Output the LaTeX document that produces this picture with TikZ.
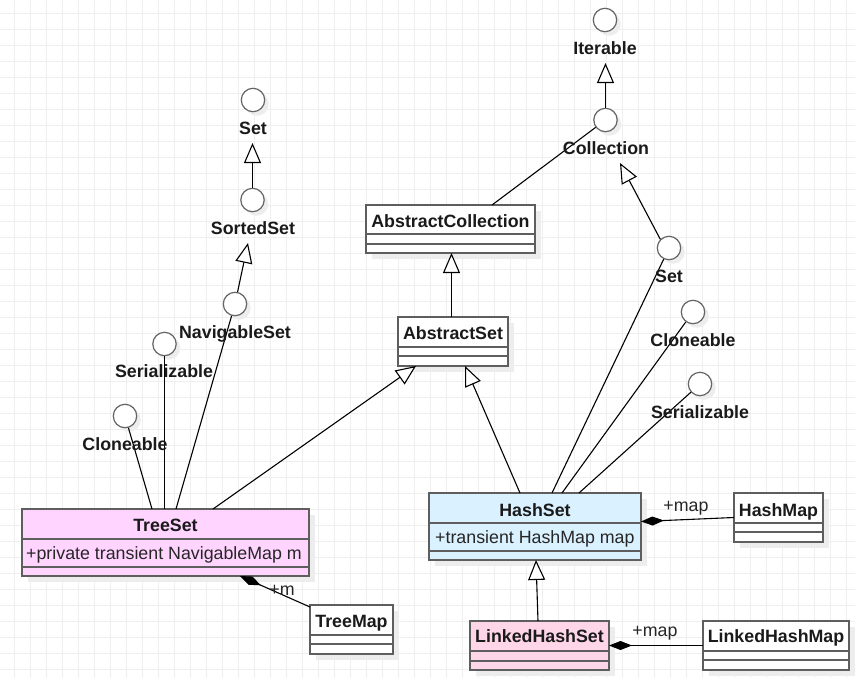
\documentclass[tikz,border=0pt]{standalone}
\usepackage{fontspec}
\setmainfont{Liberation Sans}
\usetikzlibrary{arrows.meta,calc}
\definecolor{gridc}{HTML}{EFEFEF}
\definecolor{shadowc}{HTML}{EDEDED}
\definecolor{boxc}{HTML}{5E5E5E}
\definecolor{circc}{HTML}{666666}
\definecolor{textc}{HTML}{1A1A1A}
\definecolor{attrc}{HTML}{262626}
\definecolor{tsfill}{HTML}{FFD4FF}
\definecolor{hsfill}{HTML}{DAF1FF}
\definecolor{lhsfill}{HTML}{FFD6E8}
\newcommand{\umlbox}[8]{%
  \fill[shadowc] (#2+6,#3+6) rectangle (#4+6,#5+6);
  \node[box, fill=#8, anchor=north west, minimum width={#4-#2}, minimum height={#5-#3}] (#1) at (#2,#3) {};
  \draw[boxc, line width=1.8] (#2,#6) -- (#4,#6) (#2,#7) -- (#4,#7);
}
\newcommand{\ifacecirc}[3]{%
  \fill[shadowc] (#2+4,#3+4) circle (11.7);
  \node[iface] (#1) at (#2,#3) {};
}
\begin{document}
\begin{tikzpicture}[x=1pt,y=-1pt,
  box/.style={draw=boxc, line width=1.8, inner sep=0pt, outer sep=0pt},
  iface/.style={circle, draw=circc, line width=1.2, fill=white, minimum size=23.4, inner sep=0pt},
  lbl/.style={font=\bfseries\fontsize{17.8}{20}\selectfont, text=textc, inner sep=0pt},
  attr/.style={font=\fontsize{17.8}{20}\selectfont, text=attrc, inner sep=0pt},
  assoc/.style={draw=black, line width=1.1},
  gen/.style={draw=black, line width=1.1, -{Triangle[length=20pt,width=17pt,fill=white]}},
  comp/.style={draw=black, line width=1.1, -{Diamond[length=23pt,width=9pt]}}
]
\useasboundingbox (0,0) rectangle (855,678);
\fill[white] (0,0) rectangle (855,678);
\foreach \i in {0,...,52} \draw[gridc, line width=1] (14.3+16*\i,0) -- (14.3+16*\i,678);
\foreach \i in {0,...,41} \draw[gridc, line width=1] (0,13.3+16*\i) -- (855,13.3+16*\i);

% classes
\umlbox{abscoll}{366}{205}{535}{253}{234}{244}{white}
\umlbox{absset}{398}{317}{508}{366}{347}{356}{white}
\umlbox{treeset}{22}{509}{309}{576}{539}{567}{tsfill}
\umlbox{treemap}{310}{605}{393}{654}{635}{644}{white}
\umlbox{hashset}{429}{493}{641}{560}{523}{551}{hsfill}
\umlbox{hashmap}{734}{493}{823}{542}{523}{532}{white}
\umlbox{lhs}{470}{621}{609}{670}{651}{661}{lhsfill}
\umlbox{lhm}{703}{621}{849}{670}{651}{660}{white}

\node[lbl, anchor=base] (abscollN) at (450.5,227) {AbstractCollection};
\node[lbl, anchor=base] (abssetN) at (453,339) {AbstractSet};
\node[lbl, anchor=base] (treesetN) at (165.5,531) {TreeSet};
\node[attr, anchor=base west] (treesetA) at (26,559) {+private transient NavigableMap m};
\node[lbl, anchor=base] (treemapN) at (351.5,627.5) {TreeMap};
\node[lbl, anchor=base] (hashsetN) at (535,516) {HashSet};
\node[attr, anchor=base west] (hashsetA) at (435,543) {+transient HashMap map};
\node[lbl, anchor=base] (hashmapN) at (778.5,516) {HashMap};
\node[lbl, anchor=base] (lhsN) at (539.5,642.7) {LinkedHashSet};
\node[lbl, anchor=base] (lhmN) at (776,642.7) {LinkedHashMap};

% interfaces
\ifacecirc{iter}{605}{20}
\ifacecirc{coll}{605.5}{120}
\ifacecirc{setL}{253}{100}
\ifacecirc{sorted}{252.5}{200}
\ifacecirc{navi}{235}{304}
\ifacecirc{serL}{164.5}{344}
\ifacecirc{cloneL}{125}{416}
\ifacecirc{setR}{669}{248}
\ifacecirc{cloneR}{693}{312}
\ifacecirc{serR}{700}{384}

\coordinate (iterT) at (605.5,63);
\coordinate (setLT) at (252.5,143);
\coordinate (sortedT) at (248,243);
\coordinate (collT) at (620,163);

% connectors
\draw[gen] (coll) -- (iterT);
\draw[gen] (sorted) -- (setLT);
\draw[gen] (navi) -- (sortedT);
\draw[gen] (setR.135) -- (collT);
\draw[assoc] ([xshift=126]abscoll.north west) -- (coll);
\draw[gen] ([xshift=-1.5]absset.north) -- ([xshift=-1.5]absset.north |- abscoll.south);
\draw[gen] ([xshift=191]treeset.north west) -- ([xshift=18]absset.south west);
\draw[gen] ([xshift=91]hashset.north west) -- ([xshift=67]absset.south west);
\draw[assoc] (cloneL) -- ([xshift=130]treeset.north west);
\draw[assoc] (serL) -- (serL |- treeset.north);
\draw[assoc] (navi) -- ([xshift=154]treeset.north west);
\draw[assoc] (setR) -- ([xshift=123]hashset.north west);
\draw[assoc] (cloneR) -- ([xshift=133]hashset.north west);
\draw[assoc] (serR) -- ([xshift=150]hashset.north west);
\draw[gen] ([xshift=68]lhs.north west) -- ([xshift=107]hashset.south west);
\draw[comp] (hashmap.west) -- ([yshift=5]hashset.east);
\draw[comp] (lhm.west) -- (lhs.east);
\draw[comp] ([yshift=-2]treemap.north west) -- ([xshift=218]treeset.south west);

% interface labels
\node[lbl, anchor=base] (iterN) at (605,54) {Iterable};
\node[lbl, anchor=base] (collN) at (606,154) {Collection};
\node[lbl, anchor=base] (setLN) at (253,134) {Set};
\node[lbl, anchor=base] (sortedN) at (253,234) {SortedSet};
\node[lbl, anchor=base] (naviN) at (235,338) {NavigableSet};
\node[lbl, anchor=base] (serLN) at (164,377.7) {Serializable};
\node[lbl, anchor=base] (cloneLN) at (125,450) {Cloneable};
\node[lbl, anchor=base] (setRN) at (669,282) {Set};
\node[lbl, anchor=base] (cloneRN) at (693,346) {Cloneable};
\node[lbl, anchor=base] (serRN) at (700,418) {Serializable};

% association labels
\node[attr, anchor=base] (mL) at (282,595) {+m};
\node[attr, anchor=base] (mapL1) at (686,511) {+map};
\node[attr, anchor=base] (mapL2) at (655,636) {+map};
\end{tikzpicture}
\end{document}
